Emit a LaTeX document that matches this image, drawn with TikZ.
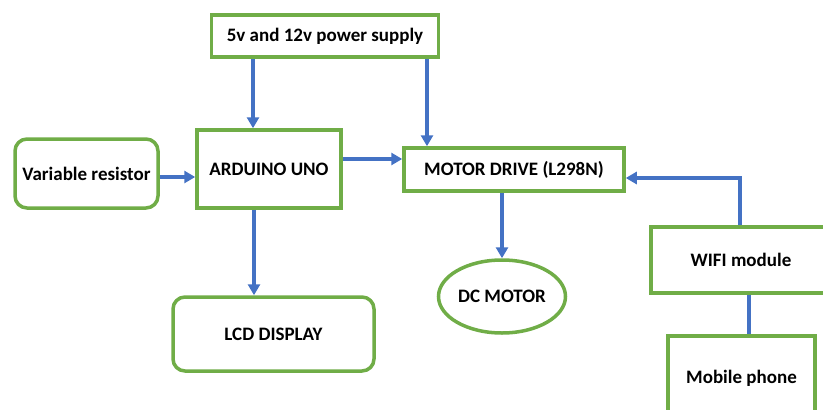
\documentclass[tikz,border=0pt]{standalone}
\usepackage{fontspec}
\setmainfont{Carlito}
\usetikzlibrary{arrows.meta, shapes.geometric}
\definecolor{boxgreen}{HTML}{70AD47}
\definecolor{lineblue}{HTML}{4472C4}

\begin{document}
\begin{tikzpicture}[x=1pt, y=-1pt,
	blk/.style={draw=boxgreen, line width=3.5pt, fill=white, inner sep=0pt,
		font=\fontsize{19}{22}\selectfont\bfseries},
	rblk/.style={blk, rounded corners=12pt},
	arr/.style={draw=lineblue, line width=3.3pt, -{Triangle[length=11pt, width=12pt]}},
	lnk/.style={draw=lineblue, line width=3.3pt}]
	\useasboundingbox (0,0) rectangle (823,410);
	\clip (0,0) rectangle (823,410);
	% blocks
	\node[blk, minimum width=227, minimum height=42] (ps) at (325,36) {5v and 12v power supply};
	\node[blk, minimum width=144, minimum height=78] (uno) at (269,169) {ARDUINO UNO};
	\node[rblk, minimum width=143, minimum height=69] (vr) at (86.5,173.5) {Variable resistor};
	\node[blk, minimum width=220, minimum height=43] (drv) at (514,169.5) {MOTOR DRIVE (L298N)};
	\node[blk, ellipse, minimum width=127, minimum height=73] (dc) at (502,296.5) {DC MOTOR};
	\node[rblk, minimum width=201, minimum height=74] (lcd) at (273.5,334) {LCD DISPLAY};
	\node[blk, minimum width=180, minimum height=66] (wifi) at (741,260) {WIFI module};
	\node[blk, minimum width=147, minimum height=84] (phone) at (741.5,378) {Mobile phone};
	% guide points for the connectors
	\coordinate (unoin) at (253,0);
	\coordinate (drvin) at (427,0);
	\coordinate (unoout) at (0,159);
	\coordinate (vrout) at (0,177);
	\coordinate (lcdin) at (254,0);
	\coordinate (wifiup) at (740,178);
	\coordinate (wifidown) at (749,0);
	% connectors
	\draw[arr] (ps.south -| unoin) -- (uno.north -| unoin);
	\draw[arr] (ps.south -| drvin) -- (drv.north -| drvin);
	\draw[arr] (vr.east |- vrout) -- (uno.west |- vrout);
	\draw[arr] (uno.east |- unoout) -- (drv.west |- unoout);
	\draw[arr] (uno.south -| lcdin) -- (lcd.north -| lcdin);
	\draw[arr] (drv.south -| dc.north) -- (dc.north);
	\draw[arr] (wifi.north -| wifiup) -- (wifiup) -- (drv.east |- wifiup);
	\draw[lnk] (wifi.south -| wifidown) -- (phone.north -| wifidown);
\end{tikzpicture}
\end{document}
